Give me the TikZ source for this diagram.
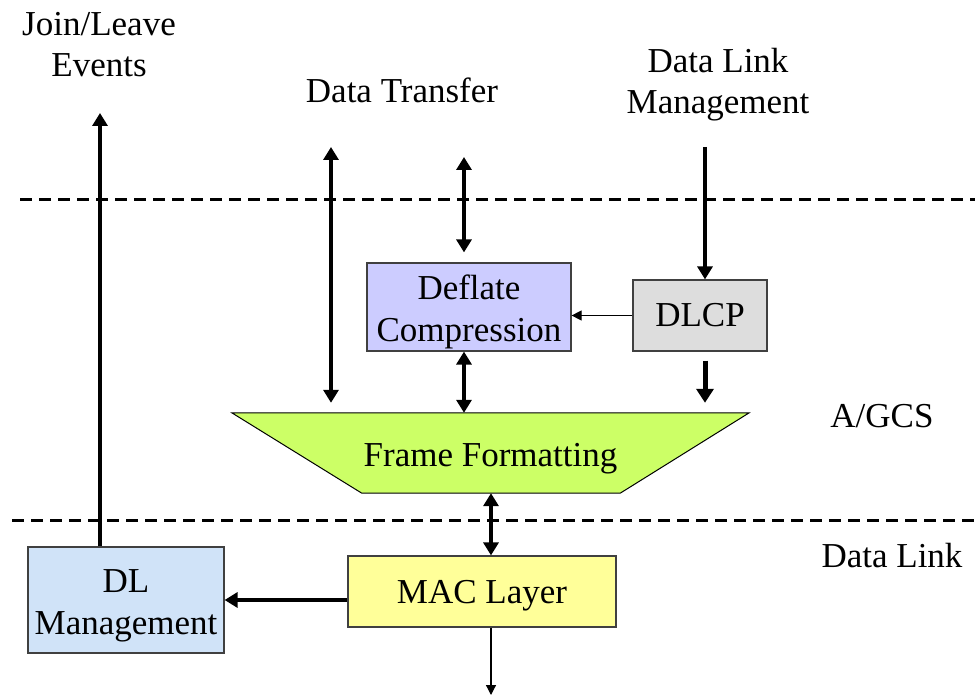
\documentclass[tikz,border=0pt]{standalone}
\usepackage{fontspec}
\setmainfont{Liberation Serif}
\usetikzlibrary{arrows.meta,backgrounds}
\definecolor{ffgreen}{HTML}{CCFF66}
\definecolor{deflfill}{HTML}{CCCCFF}
\definecolor{dlcpfill}{HTML}{DDDDDD}
\definecolor{macfill}{HTML}{FFFF99}
\definecolor{dlmfill}{HTML}{D0E3F8}
\definecolor{boxborder}{HTML}{404040}
\newcommand{\toppad}{\rule{0pt}{34pt}}
\begin{document}
\begin{tikzpicture}[x=1pt,y=-1pt,
  lbl/.style={font=\fontsize{35}{41}\selectfont, inner sep=0pt, align=center},
  box/.style={draw=boxborder, line width=1.2pt, inner sep=0pt, align=center,
    font=\fontsize{35}{42}\selectfont},
  bigarr/.style={line width=3.5pt, -{Triangle[length=13pt,width=15pt]}},
  dblarr/.style={line width=3.5pt, {Triangle[length=13pt,width=15pt]}-{Triangle[length=13pt,width=15pt]}},
  fatarr/.style={line width=5pt, -{Triangle[length=14pt,width=17pt]}},
  thinarr/.style={line width=1.2pt, -{Triangle[length=10pt,width=10pt]}},
  dashline/.style={line width=3pt, dash pattern=on 12pt off 7pt}
]
\useasboundingbox (0,0) rectangle (975,695);

% separators
\draw[dashline] (20,200) -- (975,200);
\draw[dashline] (12,520) -- (975,520);

% labels
\node[lbl] (jl) at (99,45) {Join/Leave\\Events};
\node[lbl, anchor=base] (dt) at (402,103) {Data Transfer};
\node[lbl] (dlmlbl) at (718,85) {Data Link\\Management};
\node[lbl, anchor=base] (agcs) at (882,427) {A/GCS};
\node[lbl, anchor=base] (dl) at (892,567) {Data Link};

% boxes
\node[box, fill=deflfill, minimum width=204pt, minimum height=88pt] (defl) at (469,307) {\toppad Deflate\\Compression};
\node[box, fill=dlcpfill, minimum width=134pt, minimum height=71pt] (dlcp) at (700,315.5) {DLCP};
\node[lbl, text depth=0pt, minimum width=517pt, minimum height=80pt] (ff) at (490.5,455) {Frame Formatting};
\node[box, fill=macfill, text depth=0pt, minimum width=268pt, minimum height=71pt] (mac) at (482,591.5) {MAC Layer};
\node[box, fill=dlmfill, minimum width=196pt, minimum height=106pt] (dlm) at (126,600) {\toppad DL\\Management};

\begin{scope}[on background layer]
  \fill[white] (0,0) rectangle (975,695);
  \filldraw[fill=ffgreen, draw=black, line width=1pt]
    ([yshift=2pt]ff.north west) -- ([yshift=2pt]ff.north east) -- ([xshift=-129pt,yshift=2pt]ff.south east)
    -- ([xshift=130pt,yshift=2pt]ff.south west) -- cycle;
\end{scope}

% connector coordinates
\coordinate (jtop) at (100,113);
\coordinate (dtl) at (331,147);
\coordinate (dtm) at (464,157);
\coordinate (dlmtop) at (705,147);
\coordinate (fm) at (491,0);
\coordinate (mdy) at (0,600);
\coordinate (mbot) at (491,695);

% connectors
\draw[bigarr] (dlm.north -| jtop) -- (jtop);
\draw[dblarr] (dtl) -- ([yshift=12pt]ff.north -| dtl);
\draw[dblarr] (dtm) -- ([yshift=10pt]defl.north -| dtm);
\draw[dblarr] (defl.south -| dtm) -- ([yshift=2pt]ff.north -| dtm);
\draw[bigarr] (dlmtop) -- (dlcp.north -| dlmtop);
\draw[thinarr] (dlcp.west) -- (defl.east |- dlcp.west);
\draw[fatarr] ([yshift=-9pt]dlcp.south -| dlmtop) -- ([yshift=12pt]ff.north -| dlmtop);
\draw[dblarr] ([yshift=2pt]ff.south -| fm) -- (mac.north -| fm);
\draw[bigarr] (mac.west |- mdy) -- (dlm.east |- mdy);
\draw[thinarr] (mac.south -| mbot) -- (mbot);
\end{tikzpicture}
\end{document}
